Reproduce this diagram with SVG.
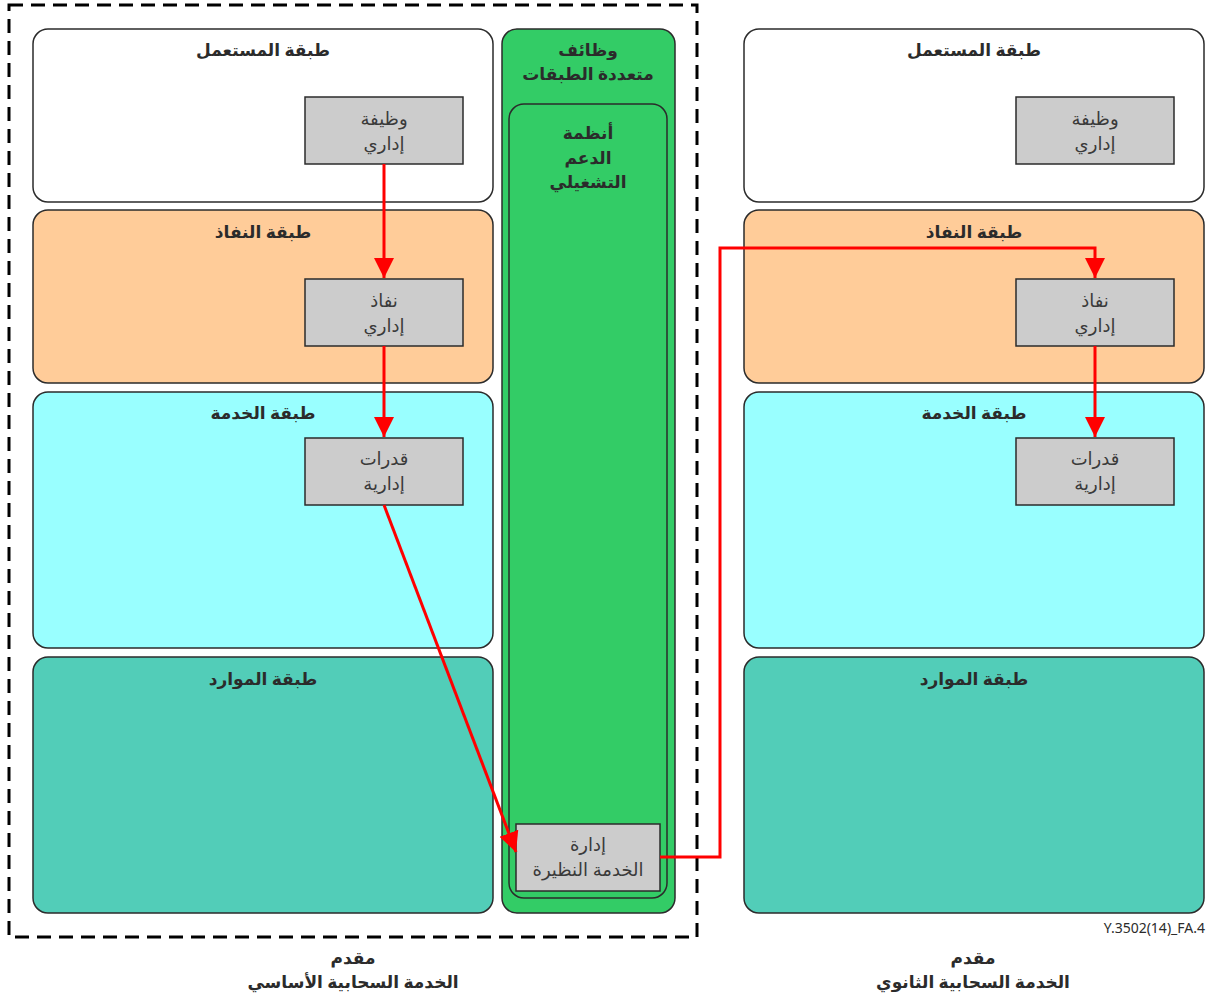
<svg xmlns="http://www.w3.org/2000/svg" width="1210" height="1001" viewBox="0 0 1210 1001">
<style>
.layer{stroke:#2b2b2b;stroke-width:1.5}
.box{fill:#cccccc;stroke:#2b2b2b;stroke-width:1.5}
.title{font-family:"Noto Sans","DejaVu Sans",sans-serif;font-weight:bold;font-size:17px;fill:#2b2b2b;text-anchor:middle}
.foot{font-family:"Noto Sans","DejaVu Sans",sans-serif;font-weight:bold;font-size:17px;fill:#2b2b2b;text-anchor:middle}
.lbl{font-family:"Noto Sans","DejaVu Sans",sans-serif;font-size:18px;fill:#3a3a3a;text-anchor:middle}
.conn{fill:none;stroke:#ff0000;stroke-width:3}
</style>
<defs>
<marker id="ahb" markerWidth="22" markerHeight="22" refX="20" refY="11" orient="auto" markerUnits="userSpaceOnUse" viewBox="0 0 22 22">
<path d="M0,1 L20,11 L0,21 z" fill="#ff0000"/>
</marker>
</defs>
<rect width="1210" height="1001" fill="#ffffff"/>

<g id="primary-provider">
<rect x="9" y="5" width="688" height="932" fill="none" stroke="#000" stroke-width="3" stroke-dasharray="14,8"/>
</g>

<g id="left-user-layer">
<rect class="layer" x="33" y="29" width="460" height="173" rx="15" fill="#ffffff"/>
<text class="title" x="263" y="56">طبقة المستعمل</text>
</g>
<g id="left-access-layer">
<rect class="layer" x="33" y="210" width="460" height="173" rx="15" fill="#ffcc99"/>
<text class="title" x="263" y="238">طبقة النفاذ</text>
</g>
<g id="left-service-layer">
<rect class="layer" x="33" y="392" width="460" height="256" rx="15" fill="#99ffff"/>
<text class="title" x="263" y="419">طبقة الخدمة</text>
</g>
<g id="left-resource-layer">
<rect class="layer" x="33" y="657" width="460" height="256" rx="15" fill="#52cdb8"/>
<text class="title" x="263" y="685">طبقة الموارد</text>
</g>

<g id="multi-layer-functions">
<rect class="layer" x="502" y="29" width="173" height="884" rx="15" fill="#33cc66"/>
<text class="title" x="588" y="56">وظائف</text>
<text class="title" x="588" y="80">متعددة الطبقات</text>
</g>
<g id="oss">
<rect class="layer" x="509" y="104" width="158" height="794" rx="15" fill="#33cc66"/>
<text class="title" x="588" y="139">أنظمة</text>
<text class="title" x="588" y="164">الدعم</text>
<text class="title" x="588" y="188">التشغيلي</text>
</g>
<g id="peer-service-management">
<rect class="box" x="516" y="824" width="144" height="67"/>
<text class="lbl" x="588" y="851">إدارة</text>
<text class="lbl" x="588" y="876">الخدمة النظيرة</text>
</g>

<g id="left-admin-function">
<rect class="box" x="305" y="97" width="158" height="67"/>
<text class="lbl" x="384" y="125">وظيفة</text>
<text class="lbl" x="384" y="150">إداري</text>
</g>
<g id="left-admin-access">
<rect class="box" x="305" y="279" width="158" height="67"/>
<text class="lbl" x="384" y="307">نفاذ</text>
<text class="lbl" x="384" y="332">إداري</text>
</g>
<g id="left-admin-capabilities">
<rect class="box" x="305" y="438" width="158" height="67"/>
<text class="lbl" x="384" y="465">قدرات</text>
<text class="lbl" x="384" y="490">إدارية</text>
</g>

<g id="right-user-layer">
<rect class="layer" x="744" y="29" width="460" height="173" rx="15" fill="#ffffff"/>
<text class="title" x="974" y="56">طبقة المستعمل</text>
</g>
<g id="right-access-layer">
<rect class="layer" x="744" y="210" width="460" height="173" rx="15" fill="#ffcc99"/>
<text class="title" x="974" y="238">طبقة النفاذ</text>
</g>
<g id="right-service-layer">
<rect class="layer" x="744" y="392" width="460" height="256" rx="15" fill="#99ffff"/>
<text class="title" x="974" y="419">طبقة الخدمة</text>
</g>
<g id="right-resource-layer">
<rect class="layer" x="744" y="657" width="460" height="256" rx="15" fill="#52cdb8"/>
<text class="title" x="974" y="685">طبقة الموارد</text>
</g>

<g id="right-admin-function">
<rect class="box" x="1016" y="97" width="158" height="67"/>
<text class="lbl" x="1095" y="125">وظيفة</text>
<text class="lbl" x="1095" y="150">إداري</text>
</g>
<g id="right-admin-access">
<rect class="box" x="1016" y="279" width="158" height="67"/>
<text class="lbl" x="1095" y="307">نفاذ</text>
<text class="lbl" x="1095" y="332">إداري</text>
</g>
<g id="right-admin-capabilities">
<rect class="box" x="1016" y="438" width="158" height="67"/>
<text class="lbl" x="1095" y="465">قدرات</text>
<text class="lbl" x="1095" y="490">إدارية</text>
</g>

<g id="connectors">
<line class="conn" x1="384" y1="164" x2="384" y2="278" marker-end="url(#ahb)"/>
<line class="conn" x1="384" y1="346" x2="384" y2="437" marker-end="url(#ahb)"/>
<line class="conn" x1="384" y1="505" x2="516" y2="852" marker-end="url(#ahb)"/>
<polyline class="conn" points="660,857 720,857 720,248 1095,248 1095,278" marker-end="url(#ahb)"/>
<line class="conn" x1="1095" y1="346" x2="1095" y2="437" marker-end="url(#ahb)"/>
</g>

<g id="labels">
<text class="foot" x="353" y="964">مقدم</text>
<text class="foot" x="353" y="988">الخدمة السحابية الأساسي</text>
<text class="foot" x="973" y="964">مقدم</text>
<text class="foot" x="973" y="988">الخدمة السحابية الثانوي</text>
<text x="1205" y="933" font-family="Noto Sans, DejaVu Sans, sans-serif" font-size="14" fill="#2b2b2b" text-anchor="end">Y.3502(14)_FA.4</text>
</g>
</svg>
